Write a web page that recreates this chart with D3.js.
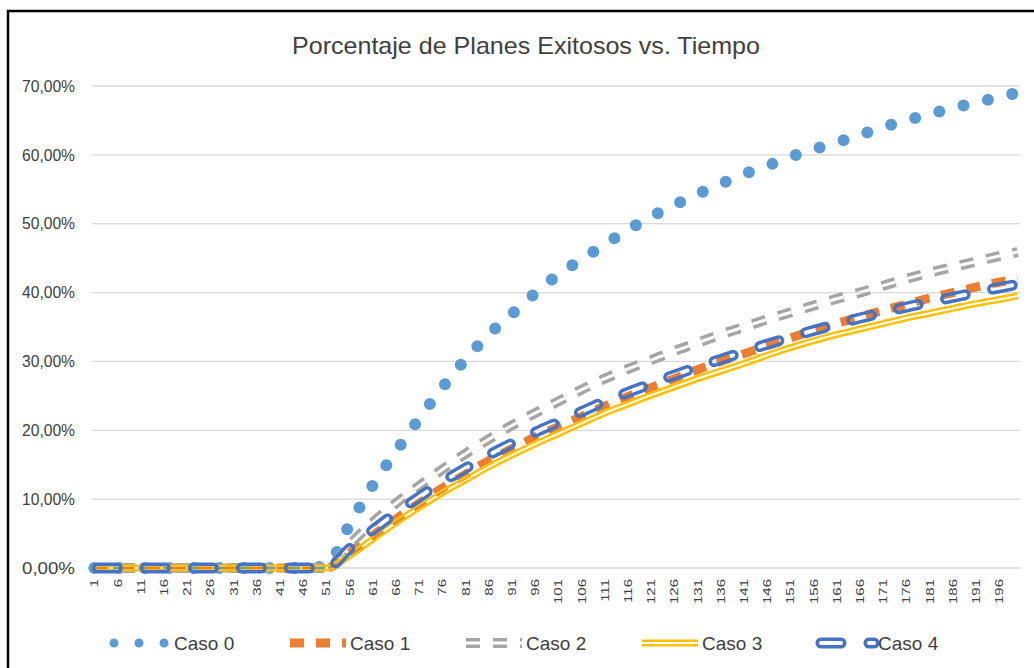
<!DOCTYPE html>
<html>
<head>
    <meta charset="utf-8">
    <title>Porcentaje de Planes Exitosos vs. Tiempo</title>
    <style>
        body { margin: 0; background: #fff; }
        text { font-family: "Liberation Sans", Arial, sans-serif; fill: #404040; }
    </style>
</head>
<body>
<script src="https://cdn.jsdelivr.net/npm/d3@7/dist/d3.min.js"></script>
<script>
    var width  = 1034;
    var height = 668;

    var tiempo = [1,6,11,16,21,26,31,36,41,46,51,56,61,66,71,76,81,86,91,96,
        101,106,111,116,121,126,131,136,141,146,151,156,161,166,171,176,181,186,191,196,200];
    var etiquetasX = [1,6,11,16,21,26,31,36,41,46,51,56,61,66,71,76,81,86,91,96,
        101,106,111,116,121,126,131,136,141,146,151,156,161,166,171,176,181,186,191,196];
    var valoresY   = [0,10,20,30,40,50,60,70];
    var etiquetasY = ["0,00%","10,00%","20,00%","30,00%","40,00%","50,00%","60,00%","70,00%"];
    var nombres = ["Caso 0","Caso 1","Caso 2","Caso 3","Caso 4"];

    // porcentajes (%)
    var caso0 = [0,0,0,0,0,0,0,0,0,0, 0.3,6.3,12.0,16.9,21.7,26.2,30.3,33.9,36.9,39.9,42.6,44.8,47.0,49.1,51.0,
        52.7,54.3,55.8,57.2,58.4,59.7,60.8,61.8,62.9,64.0,65.0,65.9,66.8,67.6,68.4,69.0];
    var caso1 = [0,0,0,0,0,0,0,0,0,0, 0,2.2,4.7,7.1,9.4,11.6,13.6,15.6,17.3,19.0,20.5,22.0,23.5,24.9,26.2,
        27.5,28.8,30.0,31.1,32.3,33.4,34.5,35.5,36.5,37.4,38.3,39.2,40.0,40.8,41.5,42.0];
    var caso2 = [0,0,0,0,0,0,0,0,0,0, 0,3.4,6.6,9.4,11.9,14.3,16.6,18.7,20.7,22.5,24.2,25.9,27.5,28.9,30.2,
        31.5,32.7,33.9,35.0,36.1,37.1,38.1,39.1,40.0,41.0,42.0,42.9,43.7,44.5,45.3,45.9];
    var caso3 = [0,0,0,0,0,0,0,0,0,0, 0,1.8,4.2,6.6,8.8,10.9,12.8,14.7,16.4,18.0,19.5,21.0,22.5,23.8,25.1,
        26.3,27.5,28.6,29.7,30.9,32.0,33.0,33.9,34.7,35.5,36.3,37.0,37.7,38.4,39.0,39.5];
    var caso4 = [0,0,0,0,0,0,0,0,0,0, 0,2.8,5.5,8.0,10.3,12.5,14.5,16.4,18.1,19.7,21.2,22.7,24.2,25.5,26.8,
        28.0,29.2,30.3,31.4,32.5,33.5,34.5,35.4,36.3,37.1,37.9,38.6,39.3,40.0,40.7,41.2];
    var series = [caso0, caso1, caso2, caso3, caso4];

    // estilo de cada linea (hueco = linea doble, centro transparente)
    var estilos = [
        {color:"#5b9bd5", ancho:12, dash:"0,25",  cap:"round", hueco:0, off:0, anchoLeyenda:9},
        {color:"#ed7d31", ancho:9,  dash:"14,12", cap:"butt",  hueco:0, off:0},
        {color:"#a5a5a5", ancho:10, dash:"14,13", cap:"butt",  hueco:3, off:0},
        {color:"#ffc000", ancho:7,  dash:null,    cap:"butt",  hueco:2, off:0},
        {color:"#4472c4", ancho:11, dash:"20,28", cap:"round", hueco:4, off:-3}
    ];

    var svg = d3.select("body").append("svg")
        .attr("width", width)
        .attr("height", height);
    var defs = svg.append("defs");

    var x = d3.scaleLinear().domain([0.5, 200.5]).range([92, 1020]);
    var y = d3.scaleLinear().domain([0, 70]).range([568, 86]);

    // marco
    svg.append("rect")
        .attr("x", 8).attr("y", 11)
        .attr("width", 1060).attr("height", 700)
        .attr("fill", "none").attr("stroke", "#000").attr("stroke-width", 2.5);

    // titulo
    svg.append("text")
        .attr("x", 526).attr("y", 54)
        .attr("text-anchor", "middle")
        .attr("font-size", "24px")
        .attr("textLength", 468).attr("lengthAdjust", "spacingAndGlyphs")
        .text("Porcentaje de Planes Exitosos vs. Tiempo");

    // rejilla
    svg.append("g").selectAll("line")
        .data(valoresY)
        .enter().append("line")
        .attr("x1", 92).attr("x2", 1020)
        .attr("y1", function(d){ return y(d); })
        .attr("y2", function(d){ return y(d); })
        .attr("stroke", "#d9d9d9").attr("stroke-width", 1.3);

    svg.append("g").selectAll("text")
        .data(valoresY)
        .enter().append("text")
        .attr("x", 75)
        .attr("y", function(d){ return y(d); })
        .attr("dy", "0.36em")
        .attr("text-anchor", "end")
        .attr("font-size", "16px")
        .attr("textLength", 53).attr("lengthAdjust", "spacingAndGlyphs")
        .text(function(d, i){ return etiquetasY[i]; });

    svg.append("g").selectAll("text")
        .data(etiquetasX)
        .enter().append("text")
        .attr("text-anchor", "end")
        .attr("font-size", "15px")
        .attr("transform", function(d){
            return "translate(" + (x(d) + 4) + ",579) rotate(-90) scale(1,0.72)";
        })
        .text(function(d){ return d; });

    function dibujar(g, d, e, id, ancho) {
        var p = g.append("path")
            .attr("d", d)
            .attr("fill", "none")
            .attr("stroke", e.color)
            .attr("stroke-width", ancho)
            .attr("stroke-linecap", e.cap)
            .attr("stroke-linejoin", "round");
        if (e.dash) p.attr("stroke-dasharray", e.dash).attr("stroke-dashoffset", e.off);
        if (e.hueco > 0) {
            var m = defs.append("mask").attr("id", id)
                .attr("maskUnits", "userSpaceOnUse")
                .attr("x", 0).attr("y", 0).attr("width", width).attr("height", height);
            m.append("rect").attr("width", width).attr("height", height).attr("fill", "#fff");
            var mp = m.append("path")
                .attr("d", d)
                .attr("fill", "none")
                .attr("stroke", "#000")
                .attr("stroke-width", e.hueco)
                .attr("stroke-linecap", e.cap)
                .attr("stroke-linejoin", "round");
            if (e.dash) mp.attr("stroke-dasharray", e.dash).attr("stroke-dashoffset", e.off);
            p.attr("mask", "url(#" + id + ")");
        }
    }

    var line = d3.line()
        .x(function(d, i){ return x(tiempo[i]); })
        .y(function(d){ return y(d); })
        .curve(d3.curveMonotoneX);

    var gl = svg.append("g");
    series.forEach(function(s, i){
        dibujar(gl, line(s), estilos[i], "m" + i, estilos[i].ancho);
    });

    // leyenda
    var gley = svg.append("g");
    nombres.forEach(function(n, i){
        var x0 = 112 + i * 176, yl = 643;
        var d = d3.line()([[x0 + 2, yl], [x0 + 58, yl]]);
        dibujar(gley, d, estilos[i], "ml" + i, estilos[i].anchoLeyenda || estilos[i].ancho);
        gley.append("text")
            .attr("x", x0 + 62).attr("y", yl)
            .attr("dy", "0.36em")
            .attr("font-size", "19px")
            .text(n);
    });
</script>
</body>
</html>
